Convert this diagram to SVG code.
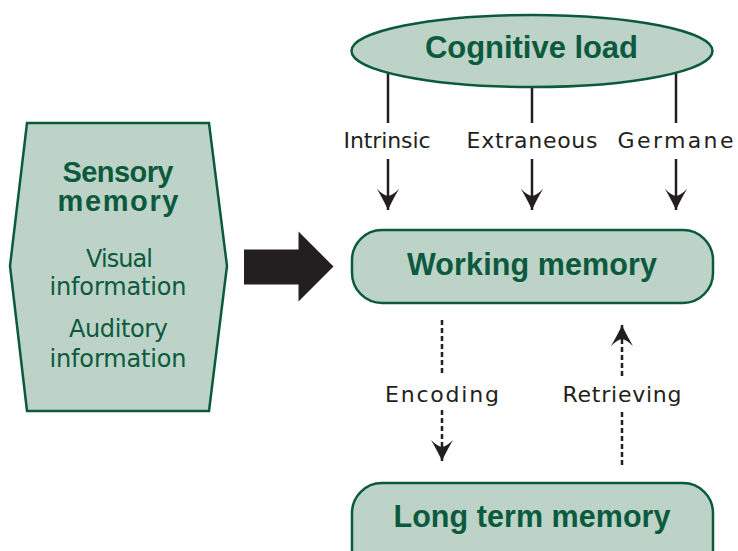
<svg xmlns="http://www.w3.org/2000/svg" width="738" height="551" viewBox="0 0 738 551">
  <style>
    .node { fill: #bdd3c8; stroke: #0c5a3e; stroke-width: 2.5; }
    .title { font-family: "Liberation Sans", Arial, sans-serif; font-weight: bold; fill: #0c5a3e; text-anchor: middle; }
    .sub { font-family: "DejaVu Sans", "Liberation Sans", sans-serif; fill: #0c5a3e; text-anchor: middle; font-size: 24px; }
    .lbl { font-family: "DejaVu Sans", "Liberation Sans", sans-serif; fill: #231f20; text-anchor: middle; font-size: 22px; }
    .solid { stroke: #231f20; stroke-width: 2.5; fill: none; }
    .dot { stroke: #231f20; stroke-width: 2.5; fill: none; stroke-dasharray: 5 3; }
  </style>
  <defs>
    <marker id="ah" markerUnits="userSpaceOnUse" markerWidth="24" markerHeight="24" viewBox="-22 -12 24 24" refX="0" refY="0" orient="auto">
      <path d="M0,0 Q-9,-4 -21,-11 Q-15,-5 -14,0 Q-15,5 -21,11 Q-9,4 0,0 Z" fill="#231f20"/>
    </marker>
  </defs>

  <g id="connectors">
    <line class="solid" x1="388" y1="60" x2="388" y2="123"/>
    <line class="solid" x1="388" y1="159" x2="388" y2="210" marker-end="url(#ah)"/>
    <line class="solid" x1="532" y1="60" x2="532" y2="123"/>
    <line class="solid" x1="532" y1="159" x2="532" y2="210" marker-end="url(#ah)"/>
    <line class="solid" x1="676" y1="60" x2="676" y2="123"/>
    <line class="solid" x1="676" y1="159" x2="676" y2="210" marker-end="url(#ah)"/>
    <line class="dot" x1="442" y1="320" x2="442" y2="376"/>
    <line class="dot" x1="442" y1="410" x2="442" y2="461" marker-end="url(#ah)"/>
    <line class="dot" x1="622" y1="465" x2="622" y2="410"/>
    <line class="dot" x1="622" y1="376" x2="622" y2="325" marker-end="url(#ah)"/>
    <polygon id="big-arrow" points="244,249.5 298.5,249.5 298.5,231.5 333.5,266.5 298.5,301.5 298.5,284.5 244,284.5" fill="#231f20"/>
  </g>

  <g id="sensory-memory">
    <polygon class="node" points="27,123 209,123 227,266 209,411 27,411 10,266"/>
    <text class="title" x="118" y="182" font-size="29" textLength="111">Sensory</text>
    <text class="title" x="118" y="211" font-size="29" textLength="121">memory</text>
    <text class="sub" x="119.5" y="267" textLength="67">Visual</text>
    <text class="sub" x="118" y="295" textLength="137">information</text>
    <text class="sub" x="118.5" y="337" textLength="99">Auditory</text>
    <text class="sub" x="118" y="367" textLength="137">information</text>
  </g>

  <g id="cognitive-load">
    <ellipse class="node" cx="532" cy="51" rx="180.5" ry="36"/>
    <text class="title" x="531.5" y="58" font-size="31" textLength="213">Cognitive load</text>
  </g>

  <g id="labels">
    <text class="lbl" x="387" y="148" textLength="87">Intrinsic</text>
    <text class="lbl" x="532" y="148" textLength="131">Extraneous</text>
    <text class="lbl" x="675.5" y="148" textLength="116">Germane</text>
    <text class="lbl" x="442" y="402" textLength="114">Encoding</text>
    <text class="lbl" x="622" y="402" textLength="119">Retrieving</text>
  </g>

  <g id="working-memory">
    <rect class="node" x="352" y="230" width="361" height="73" rx="30" ry="30"/>
    <text class="title" x="532" y="275" font-size="30.5" textLength="250">Working memory</text>
  </g>

  <g id="long-term-memory">
    <rect class="node" x="352" y="483" width="361" height="100" rx="30" ry="30"/>
    <text class="title" x="532" y="527" font-size="30.5" textLength="277">Long term memory</text>
  </g>
</svg>
